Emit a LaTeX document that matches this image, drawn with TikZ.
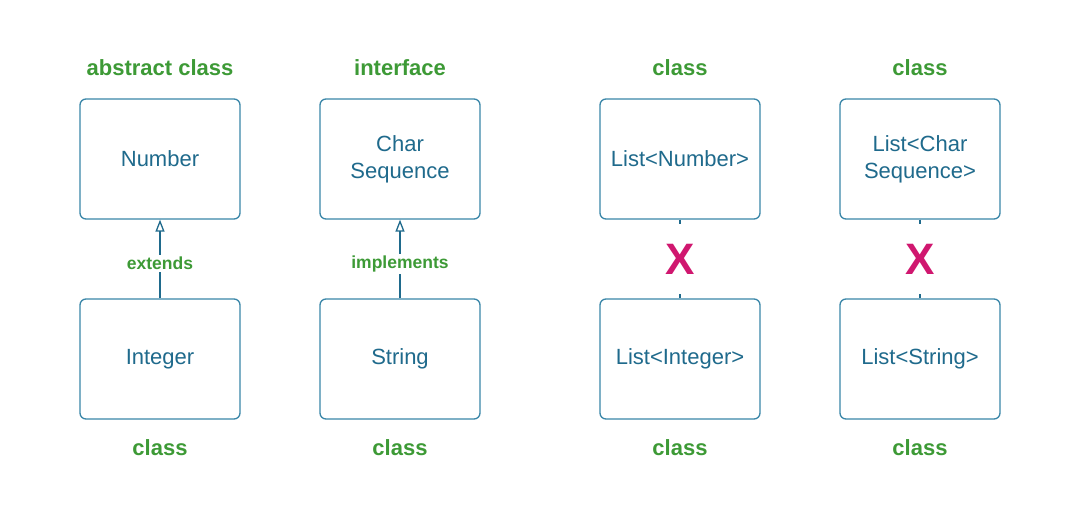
\documentclass[tikz,border=0pt]{standalone}
\usepackage{fontspec}
\setmainfont{Liberation Sans}
\usetikzlibrary{arrows.meta}
\definecolor{boxc}{HTML}{3A86A8}
\definecolor{txtc}{HTML}{1F6A8C}
\definecolor{grn}{HTML}{3D9A36}
\definecolor{pink}{HTML}{D0176F}
\tikzset{
  box/.style={draw=boxc, line width=1.3pt, rounded corners=6pt, minimum width=160pt, minimum height=120pt, align=center, text=txtc, font=\fontsize{22pt}{27pt}\selectfont, inner sep=0pt},
  lab/.style={text=grn, font=\bfseries\fontsize{22pt}{26pt}\selectfont},
  rel/.style={draw=txtc, line width=2pt, -{Triangle[open,length=12pt,width=9pt,line width=1.3pt]}},
  rellab/.style={fill=white, text=grn, font=\bfseries\fontsize{17.5pt}{20pt}\selectfont, inner sep=2pt},
  stub/.style={draw=txtc, line width=2pt},
  cross/.style={text=pink, font=\bfseries\fontsize{44pt}{44pt}\selectfont}
}
\begin{document}
\begin{tikzpicture}[x=1pt,y=-1pt]
\useasboundingbox[fill=white] (0,0) rectangle (1080,520);
% column 1
\node[box] (number) at (160,159) {Number};
\node[box] (integer) at (160,359) {Integer};
\node[lab] (l1) at (160,68) {abstract class};
\node[lab] (l2) at (160,448) {class};
\draw[rel] (integer.north) -- node[rellab, pos=0.44] (ext) {extends} (number.south);
% column 2
\node[box] (charseq) at (400,159) {Char\\Sequence};
\node[box] (string) at (400,359) {String};
\node[lab] (l3) at (400,68) {interface};
\node[lab] (l4) at (400,448) {class};
\draw[rel] (string.north) -- node[rellab, pos=0.44] (impl) {implements} (charseq.south);
% column 3
\node[box] (listnum) at (680,159) {List<Number>};
\node[box] (listint) at (680,359) {List<Integer>};
\node[lab] (l5) at (680,68) {class};
\node[lab] (l6) at (680,448) {class};
\coordinate (s1) at (680,224);
\coordinate (s2) at (680,294);
\draw[stub] (listnum.south) -- (s1);
\draw[stub] (listint.north) -- (s2);
\node[cross] (x1) at (680,259) {X};
% column 4
\node[box] (listcs) at (920,159) {List<Char\\Sequence>};
\node[box] (liststr) at (920,359) {List<String>};
\node[lab] (l7) at (920,68) {class};
\node[lab] (l8) at (920,448) {class};
\coordinate (s3) at (920,224);
\coordinate (s4) at (920,294);
\draw[stub] (listcs.south) -- (s3);
\draw[stub] (liststr.north) -- (s4);
\node[cross] (x2) at (920,259) {X};
\end{tikzpicture}
\end{document}
